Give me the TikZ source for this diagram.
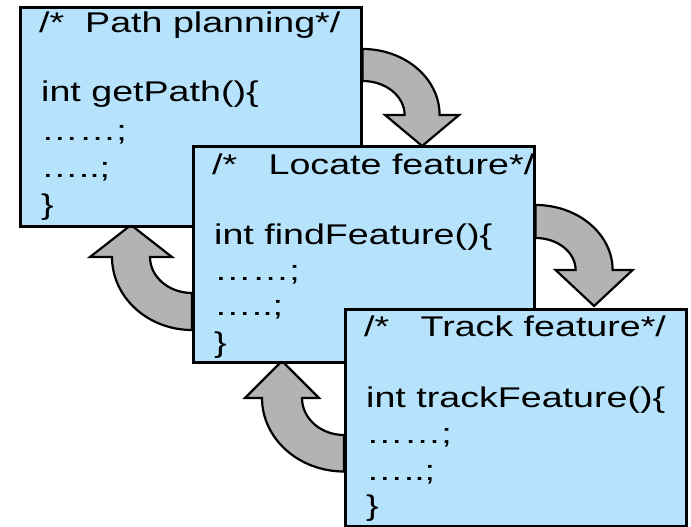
\documentclass[tikz,border=0pt]{standalone}
\usepackage{fontspec}
\usepackage{graphicx}
\setmainfont{Liberation Sans}
\usetikzlibrary{calc,backgrounds}

\definecolor{boxblue}{RGB}{182,227,251}
\definecolor{arrowgray}{RGB}{179,179,179}

% code text is set wide, as in the original slide
\newcommand\wide[1]{\scalebox{1.32}[1]{#1}}

\tikzset{
  codebox/.style={draw=black, line width=2.6pt, fill=boxblue, anchor=north west,
    minimum width=341pt, inner sep=0pt},
  codeline/.style={anchor=base west, inner sep=0pt,
    font=\fontsize{28.5}{34}\selectfont},
  blockarrow/.style={draw=black, line width=2.2pt, fill=arrowgray},
  % bent block arrow: origin at the arc centre on the box edge
  % #1 outer rx, #2 outer ry, #3 inner rx, #4 inner ry, #5 head half width, #6 head length
  pics/bendarrow/.style args={#1/#2/#3/#4/#5/#6}{code={
    \pgfmathsetmacro\mid{(#1+#3)/2}
    \path[blockarrow] (0,#2) arc[start angle=90, end angle=0, x radius=#1, y radius=#2]
      -- ({\mid+#5},0) -- (\mid,-#6) -- ({\mid-#5},0) -- (#3,0)
      arc[start angle=0, end angle=90, x radius=#3, y radius=#4] -- cycle;
  }}
}

\begin{document}
\begin{tikzpicture}[x=1pt, y=1pt]
\useasboundingbox (0,0) rectangle (691,-527);

% the three code boxes, each drawn over the previous one
\node[codebox, minimum height=219pt] (b1) at (19,-6) {};
\node[codeline] (b1l1) at ($(b1.north west)+(20,-27)$) {\wide{/*\ \ Path planning*/}};
\node[codeline] (b1l2) at ($(b1.north west)+(22,-96)$) {\wide{int getPath()\{}};
\node[codeline] (b1l3) at ($(b1.north west)+(22,-134.5)$) {\wide{……;}};
\node[codeline] (b1l4) at ($(b1.north west)+(22,-171.5)$) {\wide{…..;}};
\node[codeline] (b1l5) at ($(b1.north west)+(22,-208)$) {\wide{\}}};

\node[codebox, minimum height=216pt] (b2) at (192,-145) {};
\node[codeline] (b2l1) at ($(b2.north west)+(20,-29)$) {\wide{/*\ \ \ Locate feature*/}};
\node[codeline] (b2l2) at ($(b2.north west)+(22,-99)$) {\wide{int findFeature()\{}};
\node[codeline] (b2l3) at ($(b2.north west)+(22,-135.5)$) {\wide{……;}};
\node[codeline] (b2l4) at ($(b2.north west)+(22,-170.5)$) {\wide{…..;}};
\node[codeline] (b2l5) at ($(b2.north west)+(22,-207)$) {\wide{\}}};

\node[codebox, minimum height=217pt] (b3) at (344,-308) {};
\node[codeline] (b3l1) at ($(b3.north west)+(20,-28)$) {\wide{/*\ \ \ Track feature*/}};
\node[codeline] (b3l2) at ($(b3.north west)+(22,-99)$) {\wide{int trackFeature()\{}};
\node[codeline] (b3l3) at ($(b3.north west)+(22,-135)$) {\wide{……;}};
\node[codeline] (b3l4) at ($(b3.north west)+(22,-172)$) {\wide{…..;}};
\node[codeline] (b3l5) at ($(b3.north west)+(22,-207)$) {\wide{\}}};

% bent arrows, behind the boxes
\begin{pgfonlayer}{background}
  \pic at ($(b1.north east)+(0,-109)$) {bendarrow={77/66/42/34/37/31}};
  \pic at ($(b2.north east)+(0,-125)$) {bendarrow={77/65/40/32/38.5/36}};
  \pic[rotate=180] at ($(b2.north west)+(0,-112)$) {bendarrow={80/73/42/36/41/32}};
  \pic[rotate=180] at ($(b3.north west)+(0,-90)$) {bendarrow={82/73.5/42/37/37/37}};
\end{pgfonlayer}
\end{tikzpicture}
\end{document}
